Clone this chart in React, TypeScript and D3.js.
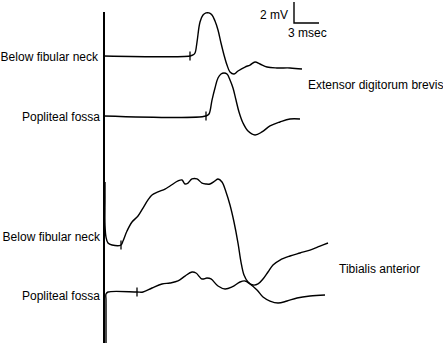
import React from "react";
import * as d3 from "d3";

// Time (msec) and amplitude (mV, relative to each trace's baseline)
const edbFibularT = [0, 10.32, 10.68, 10.92, 11.16, 11.52, 11.88, 12.24, 12.6, 12.96, 13.32, 13.68, 14.04, 14.4, 14.76, 15.12, 15.6, 16.08, 16.92, 17.52, 18.12, 18.72, 19.56, 20.76, 22.32, 23.76];
const edbFibularV = [0, 0, 0.1, 0.29, 1.33, 3.24, 3.9, 4.1, 4.1, 3.9, 3.33, 2.48, 1.24, 0.1, -0.86, -1.52, -1.71, -1.43, -1.05, -0.86, -0.57, -0.76, -1.05, -1.14, -1.14, -1.24];

const edbPoplitealT = [0, 12.24, 12.6, 12.96, 13.32, 13.68, 14.04, 14.4, 14.76, 15.12, 15.48, 15.84, 16.2, 16.68, 17.28, 18.12, 18.96, 19.92, 21.12, 22.32, 23.52];
const edbPoplitealV = [0, 0, 0.19, 1.52, 2.67, 3.62, 4.0, 4.1, 4.0, 3.43, 2.67, 1.52, 0.38, -0.67, -1.43, -1.81, -1.52, -0.95, -0.57, -0.29, -0.29];

const taFibularT = [0.12, 0.12, 0.12, 0.24, 0.48, 0.96, 2.04, 2.28, 2.76, 3.36, 4.08, 4.68, 5.28, 5.76, 6.48, 7.32, 7.92, 8.88, 9.36, 9.72, 10.08, 10.56, 11.16, 11.76, 12.24, 12.72, 13.32, 13.68, 14.16, 14.64, 15.12, 15.6, 16.08, 16.44, 16.8, 17.28, 17.88, 18.48, 19.08, 19.68, 20.28, 21.12, 22.32, 23.52, 24.72, 25.92, 26.88];
const taFibularV = [6.0, 4.29, 1.9, 0.76, 0.19, 0, 0, 0.38, 1.33, 2.19, 2.76, 3.52, 4.29, 4.76, 5.05, 5.33, 5.62, 6.1, 6.19, 5.81, 5.9, 6.29, 6.29, 5.9, 5.81, 5.81, 6.1, 6.29, 6.0, 5.05, 3.81, 2.19, 0.19, -1.62, -2.86, -3.52, -3.81, -3.71, -3.24, -2.57, -1.9, -1.43, -1.05, -0.76, -0.48, -0.1, 0.19];

const taPoplitealT = [0.24, 0.24, 0.24, 0.48, 3.96, 4.68, 5.76, 6.96, 7.92, 8.88, 9.72, 10.56, 11.04, 11.76, 12.36, 12.84, 13.68, 14.52, 15.36, 16.32, 16.92, 17.52, 18.36, 19.08, 19.92, 20.88, 21.96, 23.16, 24.72, 26.52];
const taPoplitealV = [-4.86, -0.76, -0.19, 0, 0, 0, 0.38, 0.76, 0.86, 1.05, 1.52, 1.9, 1.81, 1.24, 1.33, 1.24, 0.57, 0.29, 0.48, 0.95, 1.05, 0.76, 0.19, -0.48, -0.86, -1.05, -0.86, -0.57, -0.38, -0.29];

// Stimulus-onset tick marks (msec)
const onsetTicks = [10.32, 12.24, 2.04, 3.96];

const traceLabels = ["Below fibular neck", "Popliteal fossa", "Below fibular neck", "Popliteal fossa"];
const muscleLabels = ["Extensor digitorum brevis", "Tibialis anterior"];
const scaleBarMs = 3;
const scaleBarMv = 2;

export default function App() {
  const W = 443, H = 343;
  const x = d3.scaleLinear().domain([0, 3]).range([104, 129]);
  const amp = d3.scaleLinear().domain([0, 1]).range([0, -10.5]);
  const baselines = [56, 116, 245, 292];
  const labelRight = [98, 100, 100, 100];
  const labelCenter = [57, 117, 237, 296];

  const traces = [
    { t: edbFibularT, v: edbFibularV },
    { t: edbPoplitealT, v: edbPoplitealV },
    { t: taFibularT, v: taFibularV },
    { t: taPoplitealT, v: taPoplitealV },
  ];

  const font = "'Liberation Sans', Arial, Helvetica, sans-serif";

  const paths = traces.map((tr, i) => {
    const pts: [number, number][] = tr.t.map((t, k) => [x(t), baselines[i] + amp(tr.v[k])]);
    const line = d3.line().curve(d3.curveCatmullRom.alpha(0.5));
    return line(pts) as string;
  });

  const sbX0 = 294;
  const sbY0 = 23;
  const sbW = x(scaleBarMs) - x(0);
  const sbH = -amp(scaleBarMv);

  return (
    <svg width={W} height={H} style={{ position: "absolute", left: 0, top: 0, background: "#fff" }}>
      <rect width={W} height={H} fill="#fff" />
      <line x1={104} y1={12} x2={104} y2={H} stroke="#000" strokeWidth={2} />
      {paths.map((d, i) => (
        <path key={i} d={d} fill="none" stroke="#000" strokeWidth={1.4} strokeLinejoin="round" />
      ))}
      {onsetTicks.map((t, i) => (
        <line key={i} x1={x(t)} x2={x(t)} y1={baselines[i] - 4.5} y2={baselines[i] + 4.5} stroke="#000" strokeWidth={1.3} />
      ))}
      {traceLabels.map((s, i) => (
        <text key={i} x={labelRight[i]} y={labelCenter[i] + 4} textAnchor="end" fontFamily={font} fontSize={12} fill="#000">
          {s}
        </text>
      ))}
      <text x={308} y={89} fontFamily={font} fontSize={12} fill="#000">{muscleLabels[0]}</text>
      <text x={339} y={273} fontFamily={font} fontSize={12} fill="#000">{muscleLabels[1]}</text>
      <path d={`M${sbX0},${sbY0 - sbH} V${sbY0} H${sbX0 + sbW}`} fill="none" stroke="#000" strokeWidth={1.4} />
      <text x={260} y={19} fontFamily={font} fontSize={12} fill="#000">{`${scaleBarMv} mV`}</text>
      <text x={288} y={37} fontFamily={font} fontSize={12} fill="#000">{`${scaleBarMs} msec`}</text>
    </svg>
  );
}
